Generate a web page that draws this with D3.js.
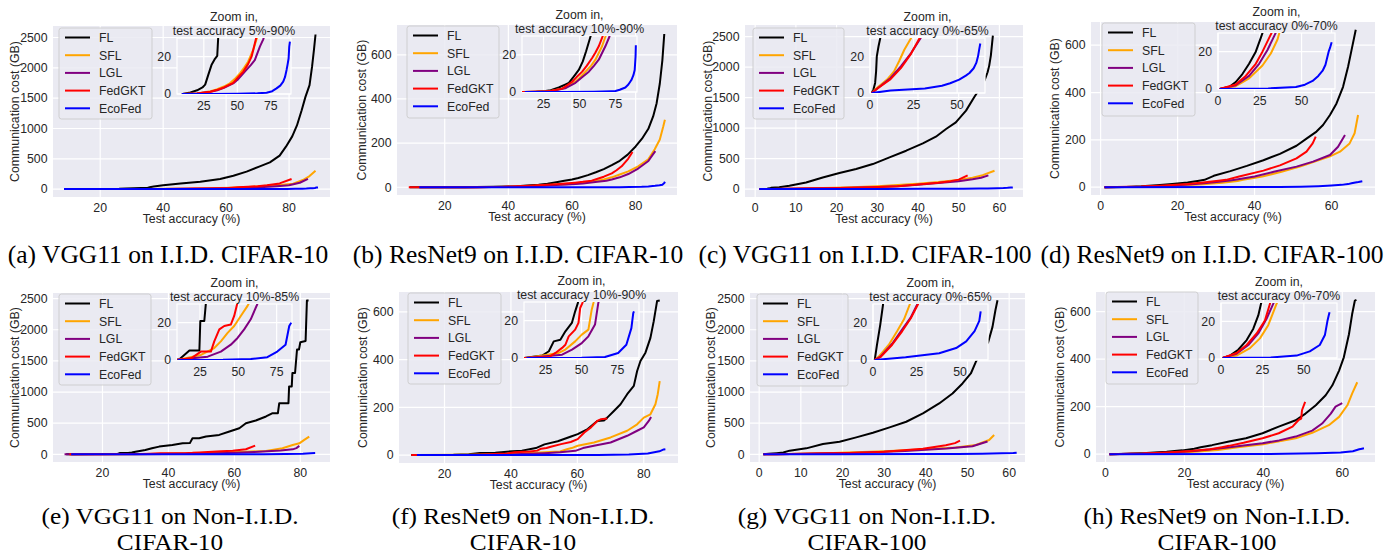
<!DOCTYPE html>
<html><head><meta charset="utf-8">
<script src="https://cdn.jsdelivr.net/npm/d3@7"></script>
<style>body{margin:0;background:#fff}svg{display:block}</style>
</head><body>
<svg id="chart" width="1393" height="556"></svg>
<script>
// ---------- series / labels ----------
const seriesNames = ["FL", "SFL", "LGL", "FedGKT", "EcoFed"];
const seriesColors = ["#000000", "#FFA500", "#800080", "#FF0000", "#0000FF"];
const yLabel = "Communication cost (GB)";
const xLabel = "Test accuracy (%)";
const yTicksLarge = [0, 500, 1000, 1500, 2000, 2500];
const yTicksSmall = [0, 200, 400, 600];
const xTicksCifar10 = [20, 40, 60, 80];
const xTicksVgg100 = [0, 10, 20, 30, 40, 50, 60];
const xTicksRes100 = [0, 20, 40, 60];
const insetYTicks = [0, 20];
const insetXTicksHigh = [25, 50, 75];
const insetXTicksLow = [0, 25, 50];
const insetTitles = ["test accuracy 5%-90%", "test accuracy 10%-90%", "test accuracy 0%-65%", "test accuracy 0%-70%",
                     "test accuracy 10%-85%", "test accuracy 10%-90%", "test accuracy 0%-65%", "test accuracy 0%-70%"];
const captions = [["(a) VGG11 on I.I.D. CIFAR-10"], ["(b) ResNet9 on I.I.D. CIFAR-10"],
                  ["(c) VGG11 on I.I.D. CIFAR-100"], ["(d) ResNet9 on I.I.D. CIFAR-100"],
                  ["(e) VGG11 on Non-I.I.D.", "CIFAR-10"], ["(f) ResNet9 on Non-I.I.D.", "CIFAR-10"],
                  ["(g) VGG11 on Non-I.I.D.", "CIFAR-100"], ["(h) ResNet9 on Non-I.I.D.", "CIFAR-100"]];

// ---------- data: [test accuracy %, cumulative communication cost GB] ----------
// (a) VGG11 IID CIFAR-10
const a_FL = [[9.2,0],[15,0.8],[20,2],[24,3.5],[26,5],[28.2,10],[30.7,15.5],[33,18.5],[35,20.4],[35.7,30],[37,42],[40,62],[45.5,92],[51.8,122],[58.1,166],[62.3,221],[66.5,288],[70.7,376],[73.9,442],[77,553],[79,700],[81,870],[82.5,1050],[84,1300],[85.2,1521],[86.5,1715],[87.3,2019],[87.9,2295],[88.4,2550]];
const a_SFL = [[8.5,0],[20,0.3],[30,1.5],[34.5,2.5],[40,4],[44.4,5.7],[48,8],[51.9,11],[55,14],[58,17.3],[61.8,23.6],[64.3,29.3],[67,36],[70,45],[74,58],[78,72],[81.3,88],[84.4,150],[86.5,215],[88.4,304]];
const a_LGL = [[9,0],[20,0.3],[30,1.2],[35,2],[40,3.3],[46.9,5.7],[50,7.5],[55.6,12],[60,15.5],[63,18.2],[66.8,25.4],[69.3,29.3],[72,35],[76,48],[80,65],[83.4,105],[86,170]];
const a_FedGKT = [[9,0],[20,0.3],[30,1.2],[34.5,2.1],[40,3.5],[46.9,6],[50,8.5],[54.4,12],[58,16],[60.6,20],[63.8,29.3],[67,38],[70,48],[73,62],[77,94],[80.8,166]];
const a_EcoFed = [[8.5,0],[30,0.05],[50,0.15],[65,0.35],[71.8,0.7],[76,1.5],[79.2,3],[82,4.5],[84.2,6.6],[85.5,9],[86.7,12.9],[87.5,16],[88.2,19],[88.7,25.4],[89.2,28]];
// (b) ResNet9 IID CIFAR-10
const b_FL = [[9,0],[20,0.2],[26.4,0.5],[30,1],[35.6,2.4],[40,4],[42.6,4.9],[46,8.2],[49.5,11.8],[52.3,16.4],[54.6,21.8],[57.6,29.6],[60,35],[62,42],[65,55],[67.5,68],[70,82],[72.5,100],[75,120],[77.5,148],[80,185],[82,220],[84,265],[85.5,321],[86.6,381],[87.6,470],[88.4,575],[89,694]];
const b_SFL = [[12,0],[30,0.5],[40,2.2],[47.2,5.5],[50,7.5],[54.2,10.9],[58,14],[61.1,17.3],[65.7,24.5],[68,29.6],[70,35],[72.5,45],[75,58],[77.7,72],[80.8,95],[84,127],[86,172],[87.6,216],[88.7,276],[89.2,306]];
const b_LGL = [[12,0],[30,0.4],[40,2],[47.2,4.9],[52,8],[56.5,10.9],[60,14],[63.4,17.3],[68,24.5],[70.8,29.6],[72.5,35],[75,45],[77.7,60],[80.8,85],[84,119],[85.5,150],[86.2,164]];
const b_FedGKT = [[8.7,0],[20,0.2],[26.4,0.3],[30,0.6],[38,1.8],[44.9,5.5],[48,8],[51.9,10.9],[55,14],[58.8,18.2],[61,21],[63.4,24.5],[66.2,30],[68.3,40],[70,48],[72.5,63],[74,77],[75.6,95],[77.7,130],[79,160]];
const b_EcoFed = [[12,0],[40,0.05],[60,0.2],[72,0.4],[75,0.5],[78,1.2],[81.9,2.4],[84,4],[86.1,6.4],[87.5,9],[88.4,11.8],[89,19],[89.2,25]];
// (c) VGG11 IID CIFAR-100
const c_FL = [[1,0],[2,2],[2.95,5.5],[3.5,11.8],[3.9,20],[4.9,25.5],[5.9,30],[8.4,55],[12.5,109],[16.6,191],[20.7,263],[24.8,328],[28.9,410],[33,520],[37.1,629],[41.2,749],[44.4,859],[46.9,985],[49.3,1094],[51.8,1286],[53.8,1504],[55.2,1650],[56.4,1789],[57.1,1915],[57.5,2024],[57.9,2188],[58.4,2516]];
const c_SFL = [[1,0],[3.9,2.7],[9.8,7.3],[13.8,11.8],[16.7,17.3],[19.7,23.6],[23.6,30],[30,48],[35,65],[40,88],[45,115],[50,150],[53.4,185],[55.9,228],[58.8,301]];
const c_LGL = [[1,0],[3.9,2.2],[11.8,8.2],[17.7,14.5],[23.6,21.8],[29.1,30],[35,45],[40,70],[45,98],[50,130],[53.4,160],[55.5,185],[57.3,225]];
const c_FedGKT = [[1,0],[3.9,2.2],[11.8,7.6],[17.7,13.6],[23.6,21.5],[28.5,30],[35,48],[40,75],[45,105],[48,130],[50,155],[52.2,225]];
const c_EcoFed = [[1,0],[11.8,1.3],[31.5,2.5],[41.3,4],[46,5.3],[51.2,7.3],[55,9.5],[57.1,10.9],[59.5,13.5],[61,16.4],[62,20],[62.8,24.5],[63.3,27]];
// (d) ResNet9 IID CIFAR-100
const d_FL = [[1,0],[6.6,1.1],[10.6,3.7],[14.6,8],[18.6,13.5],[22.6,20],[25.6,27.4],[27,31],[29.4,48],[33.7,68],[38,90],[42.3,114],[46.6,141],[50.9,175],[53.5,205],[56.1,235],[57.8,263],[59.6,305],[61.3,354],[63,424],[64.3,509],[65.2,579],[66.3,665]];
const d_SFL = [[1,0],[10.6,1.5],[18.6,5.7],[26.6,12.6],[31.6,19],[35.6,26.5],[37,31],[42,45],[47,65],[52,88],[56,110],[59.6,130],[62.2,150],[64.7,185],[66,228],[66.9,305]];
const d_LGL = [[1,0],[10.6,2],[18.6,7],[24.6,13.5],[29.6,20.9],[33.6,28.3],[35,31],[40,45],[45,65],[50.9,87],[55.2,108],[59.6,136],[61.7,171],[63.5,221]];
const d_FedGKT = [[1,0],[10.6,2.4],[16.6,7],[22.6,13.5],[26.6,20],[30.6,27.4],[32.6,31],[36,45],[42.3,70],[46.6,92],[50.9,122],[53.5,150],[55.1,185],[55.9,214]];
const d_EcoFed = [[1,0],[30,0.3],[46.6,1.1],[52,2.3],[56.6,4.3],[60,7],[62.6,9.8],[64.3,13],[65.2,16.3],[66.2,20],[67,22],[68,25]];
// (e) VGG11 Non-IID CIFAR-10
const e_FL = [[9,0],[11.6,0.4],[18.1,5.1],[24.6,5.1],[25.2,20.9],[27.8,20.9],[28.9,31],[30,43],[33,70],[35,97],[37.2,124],[41.2,151],[44.3,177],[46.5,180],[47.3,258],[49.3,258],[51.4,285],[55.4,312],[58.5,366],[61.5,419],[63.5,500],[66.5,543],[69.6,608],[71.6,661],[73.2,661],[73.6,820],[76.4,820],[76.6,1091],[77.4,1091],[77.6,1306],[78.4,1306],[79,1683],[79.6,1683],[80,1800],[81.6,1820],[82,2470],[82.5,2470]];
const e_SFL = [[10,0],[25.6,2.7],[34.3,6.4],[38.6,10],[43,14.5],[47.3,18.2],[51.6,23.6],[56,29],[60,35],[65,45],[69.6,55],[74.6,97],[77.7,151],[79.7,177],[81.2,231],[82.7,285]];
const e_LGL = [[8.5,0],[30,1.8],[38.6,4.5],[45.1,8.2],[49.5,11.8],[53.8,16.4],[58.1,21.8],[62.4,30],[66,38],[70,48],[74,62],[77.7,80],[78.8,100],[79.7,135]];
const e_FedGKT = [[10,0],[19.2,0.9],[25.6,4.5],[32.1,4.5],[34.3,10],[37.6,16.4],[40.8,18.2],[45.1,19],[47.3,23.6],[49.5,30.9],[52,38],[56,48],[59.5,59],[63.5,81],[66.3,140]];
const e_EcoFed = [[10.5,0],[40,0.1],[58.1,0.5],[68.9,1.5],[75.4,4.5],[80.8,8.2],[83.2,18.2],[84.5,20]];
// (f) ResNet9 Non-IID CIFAR-10
const f_FL = [[10,0],[22.7,1.3],[27.3,3.6],[30.7,8.9],[35.3,9.8],[38.8,14.3],[43.3,18.8],[45.6,25],[47.5,29.5],[50.1,45],[54.1,58],[58.1,78],[60.1,88],[63.1,109],[66,143],[68,145],[69,157],[71,185],[73,213],[75,255],[77,290],[78,352],[79,394],[80.5,429],[82,491],[83,561],[84,645],[84.8,647]];
const f_SFL = [[11.7,0],[34.2,2.7],[38.8,4.5],[45.6,8.9],[50.2,12.5],[54.8,15.2],[57.1,25.9],[58.3,29.5],[60.1,39],[65,53],[70,74],[75,102],[78,129],[80,157],[82,171],[83.5,213],[84.2,255],[84.8,310]];
const f_LGL = [[11.7,0],[36.5,1.8],[43.4,4.5],[50.2,8],[54.8,11.6],[59.4,17.9],[61.7,29.5],[65,39],[70,53],[75,81],[78,102],[80,116],[81.5,143],[82.2,160]];
const f_FedGKT = [[10,0],[27.3,0.5],[31.9,2.7],[36.5,5.4],[38.8,7.1],[41.1,11.6],[45.6,15.2],[47.9,18.8],[49.1,26.8],[50.7,29.5],[52,35],[55.1,46],[58,55],[60.1,67],[62.1,95],[64.1,116],[66,143],[67,150],[69,153]];
const f_EcoFed = [[11.7,0],[50,0.1],[66.3,0.5],[75.5,2.7],[81.2,7.1],[84.7,16],[86,24],[86.5,25]];
// (g) VGG11 Non-IID CIFAR-100
const g_FL = [[1,0],[2.3,8.2],[4.2,19.1],[5.8,30],[7.3,59],[11.3,96],[15.3,166],[19.3,203],[23.3,272],[27.3,347],[31.3,433],[35.3,523],[39.3,657],[43.2,817],[46.4,977],[48.8,1138],[50.8,1298],[52,1485],[53.5,1650],[55,1806],[56,2046],[56.7,2313],[57.2,2473]];
const g_SFL = [[1,0],[3.3,1.8],[9.1,8.2],[13.9,15.5],[17.8,21.8],[21.2,30],[30,50],[40,80],[47.2,110],[52,150],[55.2,230],[56.4,310]];
const g_LGL = [[1,0],[4.2,1.8],[11,8.7],[16.8,16.4],[21.6,22.7],[25.5,30],[35,55],[45,95],[51.2,130],[54.8,205]];
const g_FedGKT = [[1,0],[4.2,1.5],[11,8.2],[16.8,15.5],[21.6,22.2],[25.9,30],[30,40],[39.3,90],[44.8,145],[47,180],[48.2,220]];
const g_EcoFed = [[1,0],[18.7,1.5],[38,3.6],[47.7,6.4],[53.5,10],[58.3,15.5],[61,21],[61.8,26]];
// (h) ResNet9 Non-IID CIFAR-100
const h_FL = [[1,0],[5.4,1.3],[10.4,4.5],[15.5,9.8],[19.5,16],[22.5,23.2],[24.1,29.5],[27,38],[31.3,53],[35.6,67],[39.8,88],[43.9,116],[48.2,143],[50.7,171],[53.3,206],[55.8,248],[57.5,290],[59.2,352],[60.4,408],[61.7,505],[62.5,589],[63.2,647],[63.6,650]];
const h_SFL = [[1,0],[9.4,1.3],[17.5,5.4],[23.5,10.7],[28.5,17.9],[33.5,29.5],[40,42],[48.2,67],[52.4,90],[56.6,122],[59.2,157],[61.3,206],[62.5,255],[63.8,303]];
const h_LGL = [[1,0],[9.4,2.3],[16.5,7.1],[22.5,13.4],[27.5,21.4],[31.5,29.5],[35,36],[39.8,46],[44,58],[48.2,74],[52.4,99],[54.9,129],[57.1,171],[58.3,200],[60,215]];
const h_FedGKT = [[1,0],[9.4,2.7],[15.5,7.1],[21.5,13.4],[26.5,20.5],[29.5,29.5],[31.3,35],[35,48],[39.8,67],[43.9,88],[47.4,116],[49,145],[49.6,150],[49.8,185],[50.6,220]];
const h_EcoFed = [[1,0],[30,0.3],[45.6,1.3],[53.6,3.6],[59.6,7.1],[62.7,12.5],[64.3,20.5],[65,23.2],[65.5,25]];

// ---------- panel layout (pixel boxes: left, top, right, bottom) ----------
const panels = [
  {series:[a_FL,a_SFL,a_LGL,a_FedGKT,a_EcoFed], xTicks:xTicksCifar10, yTicks:yTicksLarge, xDom:[5,93], yDom:[-130,2690],
   box:[53,26,330,197], inset:[177,38,291,94], inXDom:[5,90], inXTicks:insetXTicksHigh, legend:[59,28,152,119], yLabOff:38, capX:168, capY:263},
  {series:[b_FL,b_SFL,b_LGL,b_FedGKT,b_EcoFed], xTicks:xTicksCifar10, yTicks:yTicksSmall, xDom:[5,93], yDom:[-35,735],
   box:[397,25,677,195], inset:[522,36,637,92], inXDom:[10,90], inXTicks:insetXTicksHigh, legend:[407,26,499,118], yLabOff:35, capX:518, capY:263},
  {series:[c_FL,c_SFL,c_LGL,c_FedGKT,c_EcoFed], xTicks:xTicksVgg100, yTicks:yTicksLarge, xDom:[-2.5,65.8], yDom:[-130,2690],
   box:[745,25,1023,197], inset:[870,38,985,93], inXDom:[0,66], inXTicks:insetXTicksLow, legend:[753,28,844,119], yLabOff:37, capX:865, capY:263},
  {series:[d_FL,d_SFL,d_LGL,d_FedGKT,d_EcoFed], xTicks:xTicksRes100, yTicks:yTicksSmall, xDom:[-2.5,71.3], yDom:[-33,698],
   box:[1091,22,1375,195], inset:[1218,33,1335,89], inXDom:[0,70], inXTicks:insetXTicksLow, legend:[1102,23,1195,116], yLabOff:36, capX:1212, capY:263},
  {series:[e_FL,e_SFL,e_LGL,e_FedGKT,e_EcoFed], xTicks:xTicksCifar10, yTicks:yTicksLarge, xDom:[5,89], yDom:[-123,2590],
   box:[53,293,330,462], inset:[177,304,292,360], inXDom:[10,85], inXTicks:insetXTicksHigh, legend:[59,294,151,385], yLabOff:38, capX:170, capY:524},
  {series:[f_FL,f_SFL,f_LGL,f_FedGKT,f_EcoFed], xTicks:xTicksCifar10, yTicks:yTicksSmall, xDom:[6.3,90.3], yDom:[-33,683],
   box:[399,292,678,463], inset:[524,302,639,358], inXDom:[10,90], inXTicks:insetXTicksHigh, legend:[408,293,501,384], yLabOff:36, capX:523, capY:524},
  {series:[g_FL,g_SFL,g_LGL,g_FedGKT,g_EcoFed], xTicks:xTicksVgg100, yTicks:yTicksLarge, xDom:[-2.2,63.8], yDom:[-123,2590],
   box:[750,293,1025,462], inset:[873,304,988,360], inXDom:[0,66], inXTicks:insetXTicksLow, legend:[757,294,848,386], yLabOff:39, capX:867, capY:524},
  {series:[h_FL,h_SFL,h_LGL,h_FedGKT,h_EcoFed], xTicks:xTicksRes100, yTicks:yTicksSmall, xDom:[-2.4,68.3], yDom:[-33,683],
   box:[1096,292,1375,462], inset:[1221,303,1337,358], inXDom:[0,70], inXTicks:insetXTicksLow, legend:[1106,292,1198,384], yLabOff:36, capX:1217, capY:524}
];

// ---------- drawing ----------
const svg = d3.select("#chart");
const BG = "#EAEAF2", TXT = "#262626", FONT = "'Liberation Sans', Arial, sans-serif", FS = 12.3, LW = 2;
const SERIF = "'Liberation Serif', 'Times New Roman', serif";
const defs = svg.append("defs");

panels.forEach((p, i) => {
  const [l, t, r, b] = p.box;
  const g = svg.append("g");
  const x = d3.scaleLinear().domain(p.xDom).range([l, r]);
  const y = d3.scaleLinear().domain(p.yDom).range([b, t]);

  g.append("rect").attr("x", l).attr("y", t).attr("width", r - l).attr("height", b - t).attr("fill", BG);
  g.selectAll(".gx").data(p.xTicks).join("line").attr("x1", d => x(d)).attr("x2", d => x(d))
    .attr("y1", t).attr("y2", b).attr("stroke", "#fff").attr("stroke-width", 1.2);
  g.selectAll(".gy").data(p.yTicks).join("line").attr("y1", d => y(d)).attr("y2", d => y(d))
    .attr("x1", l).attr("x2", r).attr("stroke", "#fff").attr("stroke-width", 1.2);
  g.selectAll(".tx").data(p.xTicks).join("text").attr("x", d => x(d)).attr("y", b + 14.5)
    .attr("text-anchor", "middle").attr("font-family", FONT).attr("font-size", FS).attr("fill", TXT).text(d => d);
  g.selectAll(".ty").data(p.yTicks).join("text").attr("x", l - 5.5).attr("y", d => y(d) + 4.3)
    .attr("text-anchor", "end").attr("font-family", FONT).attr("font-size", FS).attr("fill", TXT).text(d => d);
  g.append("text").attr("x", (l + r) / 2).attr("y", b + 26).attr("text-anchor", "middle")
    .attr("font-family", FONT).attr("font-size", FS).attr("fill", TXT).text(xLabel);
  g.append("text").attr("transform", `translate(${l - p.yLabOff},${(t + b) / 2}) rotate(-90)`)
    .attr("text-anchor", "middle").attr("dominant-baseline", "central")
    .attr("font-family", FONT).attr("font-size", FS).attr("fill", TXT).text(yLabel);

  const cid = "clipM" + i;
  defs.append("clipPath").attr("id", cid).append("rect").attr("x", l).attr("y", t).attr("width", r - l).attr("height", b - t);
  const line = d3.line().x(d => x(d[0])).y(d => y(d[1]));
  const lg = g.append("g").attr("clip-path", `url(#${cid})`);
  p.series.forEach((s, k) => {
    lg.append("path").attr("d", line(s)).attr("fill", "none").attr("stroke", seriesColors[k])
      .attr("stroke-width", LW).attr("stroke-linejoin", "round");
  });

  const [ll, lt, lr, lb] = p.legend;
  g.append("rect").attr("x", ll).attr("y", lt).attr("width", lr - ll).attr("height", lb - lt)
    .attr("rx", 2.5).attr("fill", BG).attr("fill-opacity", 0.85).attr("stroke", "#cccccc").attr("stroke-width", 0.9);
  seriesNames.forEach((n, k) => {
    const yy = lt + 9.5 + k * 17.7;
    g.append("line").attr("x1", ll + 6).attr("x2", ll + 31).attr("y1", yy).attr("y2", yy)
      .attr("stroke", seriesColors[k]).attr("stroke-width", LW);
    g.append("text").attr("x", ll + 40).attr("y", yy + 4.3).attr("font-family", FONT).attr("font-size", FS)
      .attr("fill", TXT).text(n);
  });

  const [il, it, ir, ib] = p.inset;
  const ix = d3.scaleLinear().domain(p.inXDom).range([il, ir]);
  const iy = d3.scaleLinear().domain([0, 30]).range([ib, it]);
  g.append("rect").attr("x", il).attr("y", it).attr("width", ir - il).attr("height", ib - it)
    .attr("fill", BG).attr("stroke", "#fff").attr("stroke-width", 1.2);
  g.selectAll(".igx").data(p.inXTicks).join("line").attr("x1", d => ix(d)).attr("x2", d => ix(d))
    .attr("y1", it).attr("y2", ib).attr("stroke", "#fff").attr("stroke-width", 1.2);
  g.selectAll(".igy").data(insetYTicks).join("line").attr("y1", d => iy(d)).attr("y2", d => iy(d))
    .attr("x1", il).attr("x2", ir).attr("stroke", "#fff").attr("stroke-width", 1.2);
  g.selectAll(".itx").data(p.inXTicks).join("text").attr("x", d => ix(d)).attr("y", ib + 15.5)
    .attr("text-anchor", "middle").attr("font-family", FONT).attr("font-size", FS).attr("fill", TXT).text(d => d);
  g.selectAll(".ity").data(insetYTicks).join("text").attr("x", il - 6).attr("y", d => iy(d) + 4.3)
    .attr("text-anchor", "end").attr("font-family", FONT).attr("font-size", FS).attr("fill", TXT).text(d => d);
  g.append("text").attr("x", (il + ir) / 2).attr("y", it - 17).attr("text-anchor", "middle")
    .attr("font-family", FONT).attr("font-size", FS).attr("fill", TXT).text("Zoom in,");
  g.append("text").attr("x", (il + ir) / 2).attr("y", it - 3).attr("text-anchor", "middle")
    .attr("font-family", FONT).attr("font-size", FS).attr("fill", TXT).text(insetTitles[i]);
  const icid = "clipI" + i;
  defs.append("clipPath").attr("id", icid).append("rect").attr("x", il).attr("y", it).attr("width", ir - il).attr("height", ib - it);
  const iline = d3.line().x(d => ix(d[0])).y(d => iy(d[1]));
  const ig = g.append("g").attr("clip-path", `url(#${icid})`);
  p.series.forEach((s, k) => {
    ig.append("path").attr("d", iline(s)).attr("fill", "none").attr("stroke", seriesColors[k])
      .attr("stroke-width", LW).attr("stroke-linejoin", "round");
  });

  // caption: single-line captions at full size; two-line captions slightly smaller and widened to fit the page
  const twoLine = captions[i].length > 1;
  captions[i].forEach((c, j) => {
    svg.append("text")
      .attr("transform", `translate(${p.capX},${p.capY + j * 26}) scale(${twoLine ? 1.1 : 1},1)`)
      .attr("text-anchor", "middle").attr("font-family", SERIF).attr("font-size", twoLine ? 23 : 25.5)
      .attr("fill", "#000").text(c);
  });
});
</script>
</body></html>
